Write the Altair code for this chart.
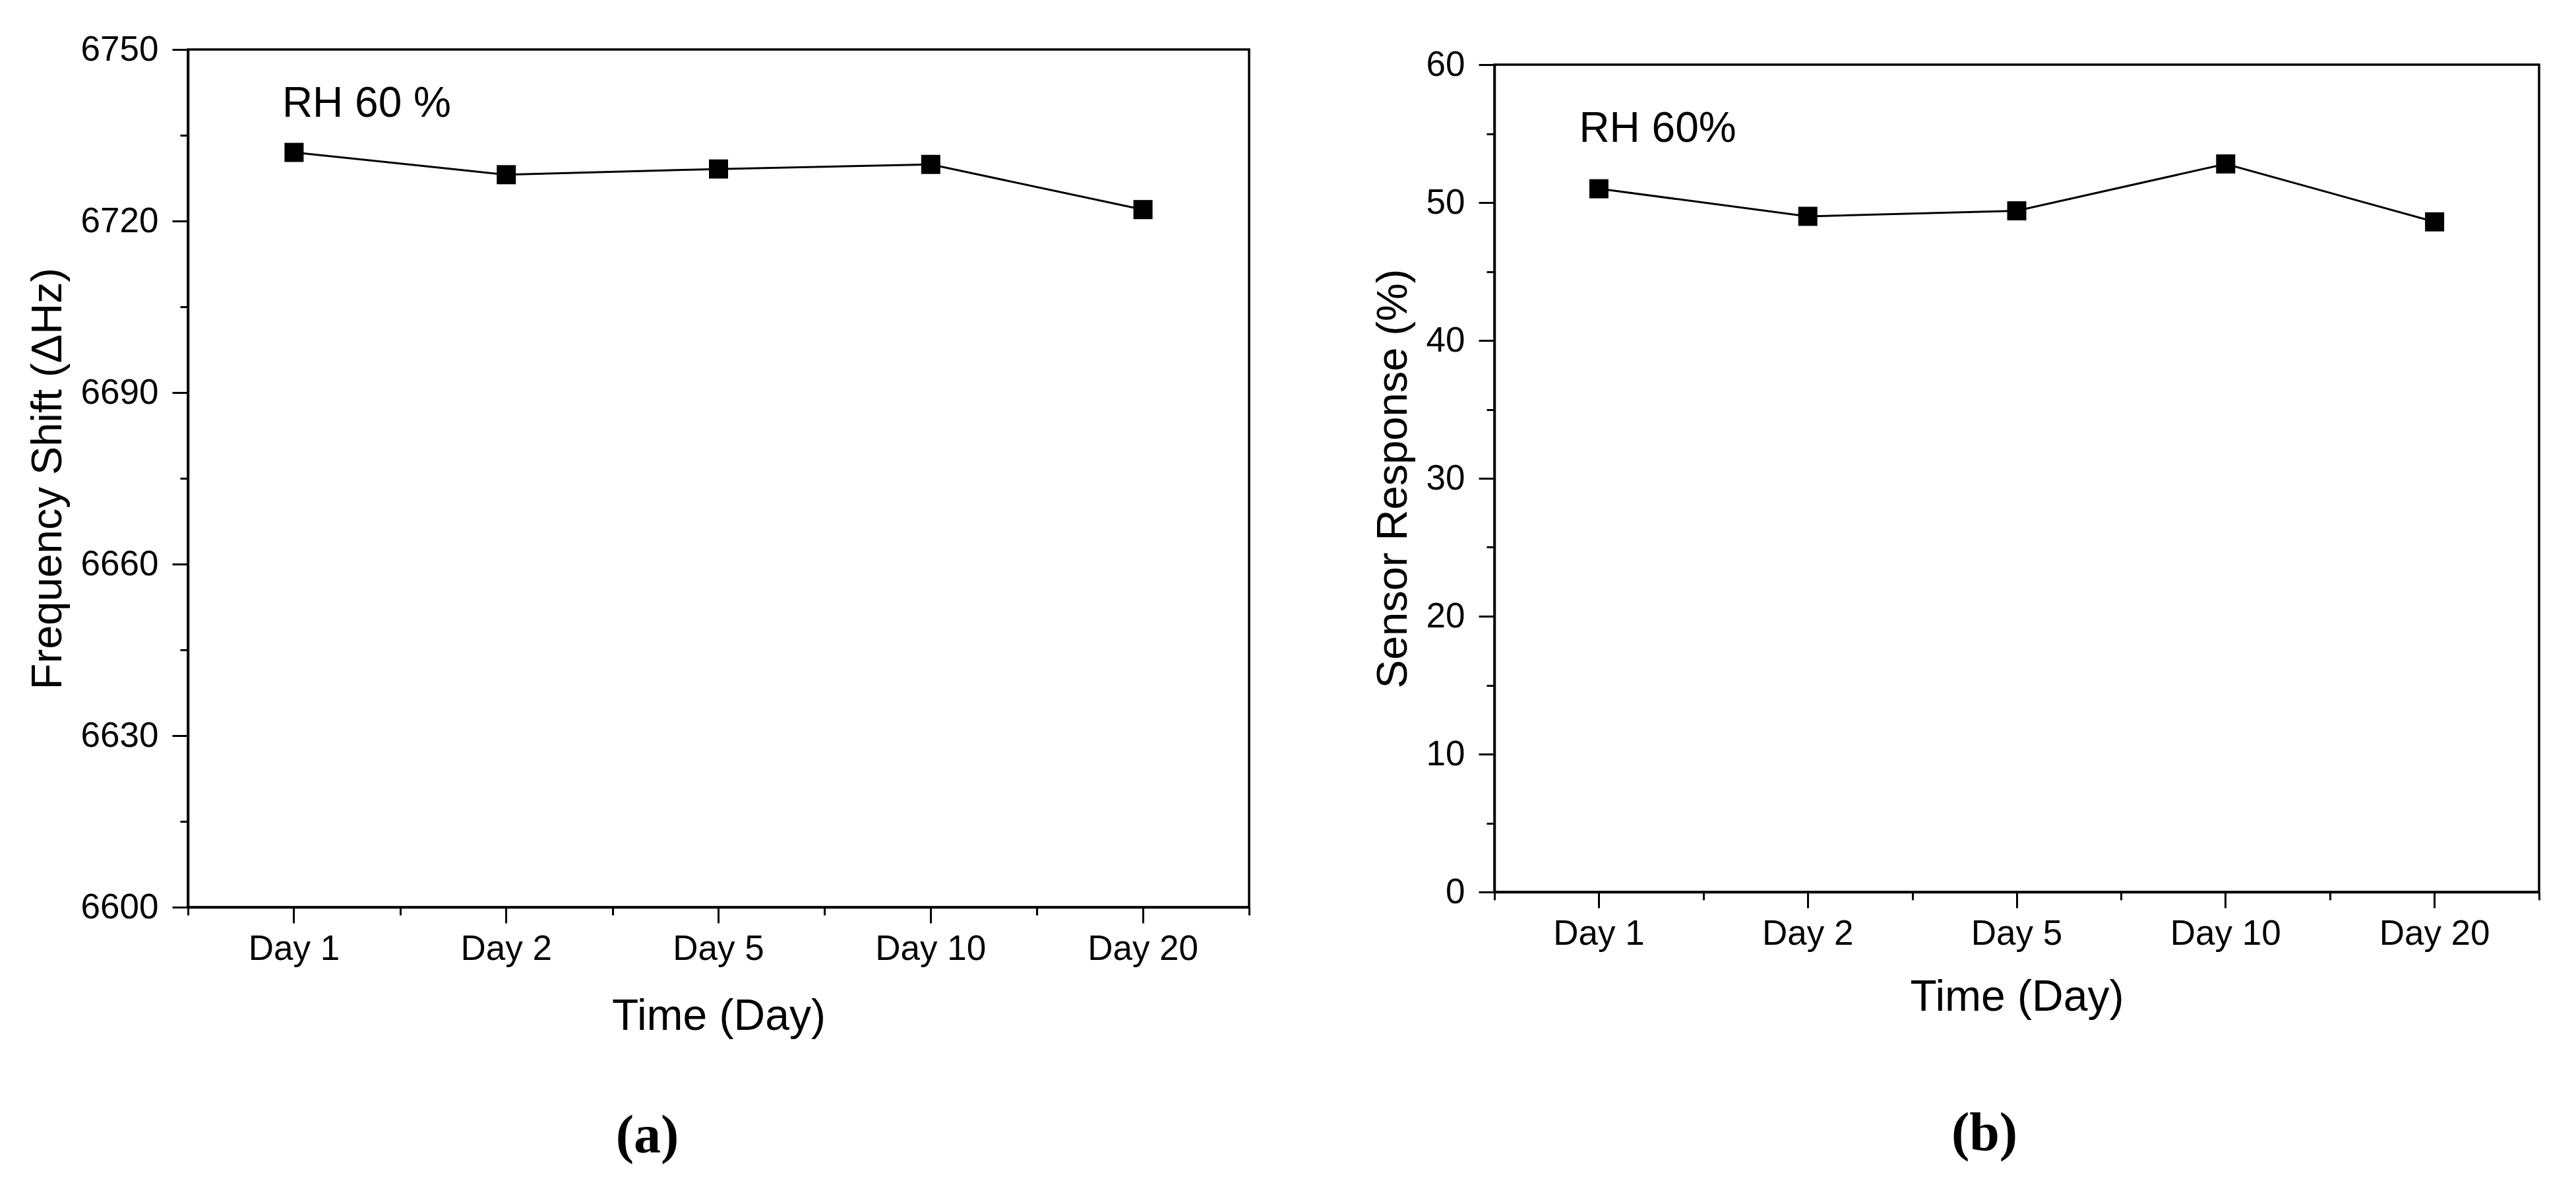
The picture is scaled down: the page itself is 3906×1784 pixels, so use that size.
import altair as alt
import pandas as pd

# ---- data ----
days = ["Day 1", "Day 2", "Day 5", "Day 10", "Day 20"]
freq_shift = [6732.0, 6728.1, 6729.1, 6729.9, 6722.0]
sensor_resp = [51.0, 49.0, 49.4, 52.8, 48.6]

freq_domain = [6600, 6750]
freq_major = [6600, 6630, 6660, 6690, 6720, 6750]
freq_minor = [6615, 6645, 6675, 6705, 6735]

resp_domain = [0, 60]
resp_major = [0, 10, 20, 30, 40, 50, 60]
resp_minor = [5, 15, 25, 35, 45, 55]

note_a = ("RH 60 %", "Day 1", 6738.2)
note_b = ("RH 60%", "Day 1", 54.4)

FONT = "Liberation Sans"


def panel(values, ytitle, ydomain, major, minor, note, note_dx, w, h,
          xtitle_pad, sub, sub_offset, sub_dx):
    df = pd.DataFrame({"day": days, "value": values})
    ndf = pd.DataFrame({"day": [note[1]], "value": [note[2]], "txt": [note[0]]})
    xscale = alt.Scale(type="band", domain=days, paddingInner=0, paddingOuter=0)
    yscale = alt.Scale(domain=ydomain, nice=False, zero=False)

    x_main = alt.X("day:N", scale=xscale, axis=alt.Axis(
        orient="bottom", title="Time (Day)", tickBand="center", tickSize=24,
        labelFontSize=53, labelPadding=13, labelAngle=0, titleFontSize=66,
        titlePadding=xtitle_pad))
    y_main = alt.Y("value:Q", scale=yscale, axis=alt.Axis(
        orient="left", title=ytitle, values=major, format="d", tickSize=24,
        labelFontSize=53, labelPadding=21, titleFontSize=65, titlePadding=16))

    base = alt.Chart(df)
    line = base.mark_line(color="black", strokeWidth=3).encode(x=x_main, y=y_main)
    pts = base.mark_point(shape="square", filled=True, size=840, color="black",
                          opacity=1).encode(x=x_main, y=y_main)
    txt = alt.Chart(ndf).mark_text(align="left", baseline="alphabetic", dx=note_dx,
                                   fontSize=64, font=FONT, color="black").encode(
        x=alt.X("day:N", scale=xscale), y=alt.Y("value:Q", scale=yscale), text="txt:N")
    inner = alt.layer(line, pts, txt)

    minor_layer = base.mark_point(opacity=0).encode(
        x=alt.X("day:N", scale=xscale, axis=alt.Axis(
            orient="bottom", title=None, labels=False, tickBand="extent",
            tickSize=12, domain=False)),
        y=alt.Y("value:Q", scale=yscale, axis=alt.Axis(
            orient="left", title=None, labels=False, values=minor, tickSize=12,
            domain=False)))
    return alt.layer(inner, minor_layer).resolve_axis(
        x="independent", y="independent").properties(
        width=w, height=h,
        title=alt.TitleParams(sub, orient="bottom", font="Liberation Serif",
                              fontWeight="bold", fontSize=82, offset=sub_offset,
                              frame="group", anchor="middle", dx=sub_dx, color="black"))


left = panel(freq_shift, "Frequency Shift (\u0394Hz)", freq_domain, freq_major, freq_minor,
             note_a, -18, 1609, 1300, 43, "(a)", 109, -108)
right = panel(sensor_resp, "Sensor Response (%)", resp_domain, resp_major, resp_minor,
              note_b, -30, 1584, 1254, 37, "(b)", 134, -49)

# empty strip that lowers the right panel so its frame starts below the left one
spacer = alt.Chart(pd.DataFrame({"day": days})).mark_point(opacity=0).encode(
    x=alt.value(0), y=alt.value(0)
).properties(width=1584, height=13, view=alt.ViewBackground(stroke="transparent"))

right_col = alt.vconcat(spacer, right, spacing=10, bounds="flush")

chart = alt.hconcat(left, right_col, spacing=180).properties(
    padding={"left": 30, "top": 39, "right": 5, "bottom": 5}
).configure(font=FONT).configure_view(
    stroke="black", strokeWidth=3.5
).configure_axis(
    labelFont=FONT, titleFont=FONT, labelColor="black", titleColor="black",
    tickColor="black", domainColor="black", tickWidth=3, domainWidth=3.5,
    grid=False, titleFontWeight="normal"
)

chart.save("out.html", embed_options={"renderer": "svg", "actions": False})
